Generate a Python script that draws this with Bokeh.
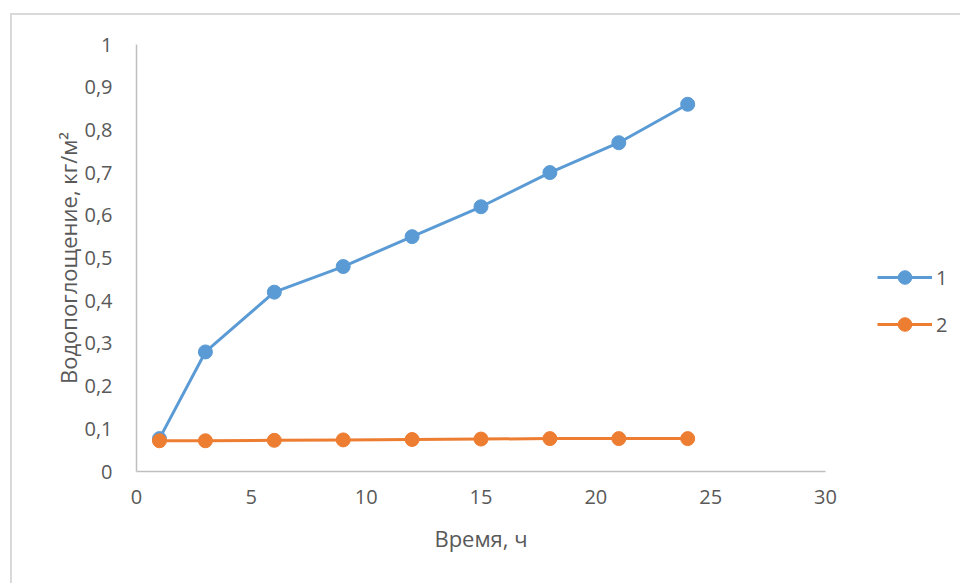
from bokeh.plotting import figure
from bokeh.models import FixedTicker, Legend, LegendItem
from bokeh.embed import file_html
from bokeh.resources import INLINE

# Время, ч
hours = [1, 3, 6, 9, 12, 15, 18, 21, 24]
# Водопоглощение, кг/м², образец 1 и образец 2
series_1 = [0.077, 0.28, 0.42, 0.48, 0.55, 0.62, 0.70, 0.77, 0.86]
series_2 = [0.072, 0.072, 0.073, 0.074, 0.075, 0.076, 0.077, 0.077, 0.077]

x_ticks = [0, 5, 10, 15, 20, 25, 30]
y_ticks = [0, 0.1, 0.2, 0.3, 0.4, 0.5, 0.6, 0.7, 0.8, 0.9, 1.0]
y_tick_labels = {v: ("%g" % v).replace(".", ",") for v in y_ticks}

BLUE = "#5b9bd5"
ORANGE = "#ed7d31"
TEXT = "#595959"
AXIS = "#bfbfbf"
FONT = "Open Sans"

OFF_X, OFF_Y = 12, 15  # page offset of the canvas (margin + border)

p = figure(
    frame_width=825 - 136, frame_height=471 - 44,
    x_range=(0, 30), y_range=(0, 1),
    output_backend="svg", toolbar_location=None,
    min_border_left=136 - OFF_X, min_border_right=960 - 825,
    min_border_top=44 - OFF_Y, min_border_bottom=583 - 471,
    background_fill_color="white", border_fill_color="white",
)
p.margin = (13, 0, 0, 10)
p.styles = {"border-left": "2px solid #d9d9d9", "border-top": "2px solid #d9d9d9"}
p.outline_line_color = None
p.xgrid.visible = False
p.ygrid.visible = False

for ax in (p.xaxis[0], p.yaxis[0]):
    ax.axis_line_color = AXIS
    ax.axis_line_width = 1.5
    ax.major_tick_line_color = None
    ax.minor_tick_line_color = None
    ax.major_label_text_font = FONT
    ax.major_label_text_font_size = "20px"
    ax.major_label_text_color = TEXT
    ax.axis_label_text_font = FONT
    ax.axis_label_text_font_size = "22px"
    ax.axis_label_text_font_style = "normal"
    ax.axis_label_text_color = TEXT

p.xaxis.ticker = FixedTicker(ticks=x_ticks)
p.yaxis.ticker = FixedTicker(ticks=y_ticks)
p.yaxis.major_label_overrides = y_tick_labels
p.xaxis.axis_label = "Время, ч"
p.yaxis.axis_label = "Водопоглощение, кг/м²"
p.xaxis.major_label_standoff = 12
p.yaxis.major_label_standoff = 18
p.xaxis.axis_label_standoff = 16
p.yaxis.axis_label_standoff = -2

l1 = p.line(hours, series_1, line_color=BLUE, line_width=3)
m1 = p.scatter(hours, series_1, size=14, fill_color=BLUE, line_color=BLUE)
l2 = p.line(hours, series_2, line_color=ORANGE, line_width=3)
m2 = p.scatter(hours, series_2, size=14, fill_color=ORANGE, line_color=ORANGE)

legend = Legend(
    items=[LegendItem(label="1", renderers=[l1, m1]),
           LegendItem(label="2", renderers=[l2, m2])],
    location=(52, 130),
    border_line_color=None,
    background_fill_alpha=0,
    label_text_font=FONT,
    label_text_font_size="20px",
    label_text_color=TEXT,
    glyph_width=55,
    glyph_height=34,
    label_standoff=4,
    spacing=13,
    padding=0,
    margin=0,
)
p.add_layout(legend, "right")

open("out.html", "w").write(file_html(p, INLINE))
